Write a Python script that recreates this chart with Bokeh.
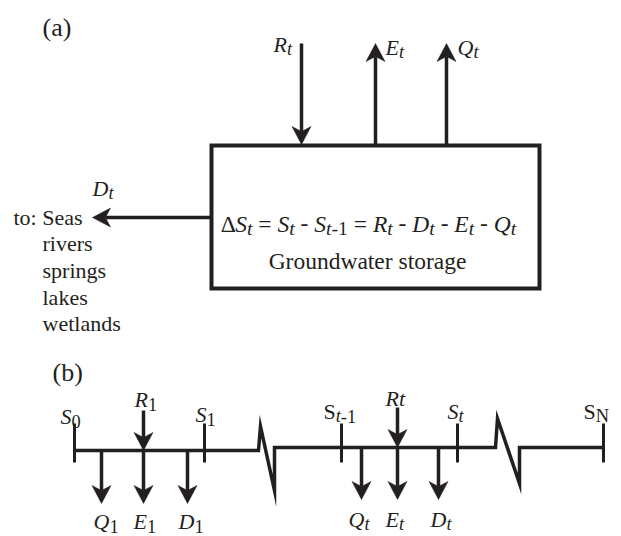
from bokeh.plotting import figure
from bokeh.models import Range1d, ColumnDataSource
from bokeh.core.properties import value
from bokeh.embed import file_html
from bokeh.resources import INLINE

INK = "#231f20"
FONT = "Liberation Serif"
SIZE = 22
BOX_SIZE = 23.5
PANEL_SIZE = 26
SUB = 0.84
SUB_DROP = 0.21

# ---------------- content (text) ----------------
panel_labels = ["(a)", "(b)"]
sink_lines = ["to: Seas", "rivers", "springs", "lakes", "wetlands"]
box_caption = "Groundwater storage"
top_flux = ["R", "E", "Q"]          # R_t in, E_t and Q_t out (panel a)
step_out = ["Q", "E", "D"]          # outflows per step (panel b)

# ---------------- layout (pixel positions) ----------------
box_lrtb = [211, 539, 145, 288]
top_arrow_x = [301, 375, 446]
top_arrow_dir = ["in", "out", "out"]
top_arrow_far_y = 43
top_label_xy = [(273, 44), (385, 47), (457, 47)]
d_arrow_y = 217
d_arrow_tip_x = 92
sink_x = [13, 42, 42, 42, 42]
sink_y = [217, 243, 270, 297, 323]

line_x = [74, 258, 260, 274, 274, 495, 497, 519, 519, 603]
line_y = [450, 450, 426, 490, 447, 447, 418, 483, 447, 447]
tick_x = [74, 204, 341, 457, 603]
tick_y = [423, 462]
step1_x = [101, 143, 187]
stept_x = [361, 397, 438]

# ---------------- font metrics (Times/Liberation Serif, per 1000 em) ----------------
W_REG = {" ": 250, "(": 333, ")": 333, "-": 333, "=": 564, ":": 278,
         "0": 500, "1": 500, "a": 444, "b": 500, "c": 444, "d": 500, "e": 444,
         "g": 500, "i": 278, "k": 500, "l": 278, "n": 500, "o": 500, "p": 500,
         "r": 333, "s": 389, "t": 278, "u": 500, "v": 500, "w": 722,
         "G": 722, "S": 556, "N": 722, "\u0394": 612}
W_IT = {"S": 500, "t": 278, "R": 611, "D": 722, "E": 611, "Q": 722, " ": 250}


def tw(s, italic, size):
    tbl = W_IT if italic else W_REG
    return sum(tbl.get(c, 500) for c in s) * size / 1000.0


groups = {}


def rich(x, y, parts, size=SIZE, align="left"):
    sizes = [size * SUB if sub else size for (_, _, sub) in parts]
    total = sum(tw(t, it, s) for (t, it, _), s in zip(parts, sizes))
    if align == "center":
        x -= total / 2.0
    for (t, it, sub), s in zip(parts, sizes):
        lead = len(t) - len(t.lstrip(" "))
        core = t.strip(" ")
        trail = len(t) - len(t.rstrip(" "))
        x += lead * W_REG[" "] * s / 1000.0
        yy = y + (size * SUB_DROP if sub else 0)
        g = groups.setdefault((it, round(s, 2)), dict(x=[], y=[], text=[]))
        g["x"].append(x)
        g["y"].append(yy)
        g["text"].append(core)
        x += tw(core, it, s) + trail * W_REG[" "] * s / 1000.0


def sym(base, sub, base_it=True, sub_it=True):
    return [(base, base_it, False), (sub, sub_it, True)]


p = figure(width=621, height=536, output_backend="svg", toolbar_location=None,
           x_range=Range1d(0, 621), y_range=Range1d(536, 0), min_border=0)
p.axis.visible = False
p.grid.visible = False
p.outline_line_color = None
p.background_fill_color = "white"

# ---- arrows ----
HEAD_L = 18.0
HEAD_W = 9.5
NOTCH = 0.72
shaft = dict(x0=[], y0=[], x1=[], y1=[])
heads_x, heads_y = [], []


def arrow(x0, y0, x1, y1):
    dx, dy = x1 - x0, y1 - y0
    n = (dx * dx + dy * dy) ** 0.5
    ux, uy = dx / n, dy / n
    px, py = -uy, ux
    bx, by = x1 - ux * HEAD_L, y1 - uy * HEAD_L
    nx, ny = x1 - ux * HEAD_L * NOTCH, y1 - uy * HEAD_L * NOTCH
    shaft["x0"].append(x0); shaft["y0"].append(y0)
    shaft["x1"].append(nx); shaft["y1"].append(ny)
    heads_x.append([x1, bx + px * HEAD_W, nx, bx - px * HEAD_W])
    heads_y.append([y1, by + py * HEAD_W, ny, by - py * HEAD_W])


# panel (a)
bl, br, bt, bb = box_lrtb
for x, d in zip(top_arrow_x, top_arrow_dir):
    if d == "in":
        arrow(x, top_arrow_far_y, x, bt - 1)
    else:
        arrow(x, bt, x, top_arrow_far_y)
arrow(bl, d_arrow_y, d_arrow_tip_x, d_arrow_y)

# panel (b)
y_left, y_mid = line_y[0], line_y[4]
arrow(step1_x[1], 410, step1_x[1], y_left)
for x in step1_x:
    arrow(x, y_left, x, 503)
arrow(stept_x[1], 407, stept_x[1], y_mid)
for x in stept_x:
    arrow(x, y_mid, x, 499)

p.quad(left=[bl], right=[br], top=[bt], bottom=[bb], fill_color=None,
       line_color=INK, line_width=4, line_join="miter")
p.line(line_x, line_y, line_color=INK, line_width=3.5, line_join="miter")
p.segment(x0=tick_x, y0=[tick_y[0]] * len(tick_x), x1=tick_x, y1=[tick_y[1]] * len(tick_x),
          line_color=INK, line_width=3)
p.segment(x0="x0", y0="y0", x1="x1", y1="y1", source=ColumnDataSource(shaft),
          line_color=INK, line_width=3.5)
p.patches(heads_x, heads_y, fill_color=INK, line_color=INK, line_width=0.5)

# ---- texts ----
rich(42, 27, [(panel_labels[0], False, False)], size=PANEL_SIZE)
for name, (x, y) in zip(top_flux, top_label_xy):
    rich(x, y, sym(name, "t"))
rich(92, 188, sym("D", "t"))
for t, x, y in zip(sink_lines, sink_x, sink_y):
    rich(x, y, [(t, False, False)])

eq = ([("\u0394", False, False)] + sym("S", "t") + [(" = ", False, False)]
      + sym("S", "t") + [(" - ", False, False)] + sym("S", "t") + [("-1", False, True)]
      + [(" = ", False, False)] + sym("R", "t") + [(" - ", False, False)]
      + sym("D", "t") + [(" - ", False, False)] + sym("E", "t")
      + [(" - ", False, False)] + sym("Q", "t"))
rich(368, 223, eq, size=BOX_SIZE, align="center")
rich(367, 260, [(box_caption, False, False)], size=BOX_SIZE, align="center")

rich(52, 372, [(panel_labels[1], False, False)], size=PANEL_SIZE)
rich(60, 416, sym("S", "0", True, False))
rich(134, 399, sym("R", "1", True, False))
rich(195, 414, sym("S", "1", True, False))
rich(323, 411, [("S", False, False), ("t", True, True), ("-1", False, True)])
rich(385, 398, [("Rt", True, False)])
rich(447, 411, sym("S", "t"))
rich(583, 411, sym("S", "N", False, False))
for name, x in zip(step_out, [93, 133, 178]):
    rich(x, 521, sym(name, "1", True, False))
for name, x in zip(step_out, [348, 385, 430]):
    rich(x, 519, sym(name, "t"))

for (it, s), g in groups.items():
    p.text(x="x", y="y", text="text", source=ColumnDataSource(g),
           text_font=value(FONT), text_font_style="italic" if it else "normal",
           text_font_size=f"{s}px", text_color=INK,
           text_baseline="alphabetic", text_align="left")

open("out.html", "w").write(file_html(p, INLINE))
